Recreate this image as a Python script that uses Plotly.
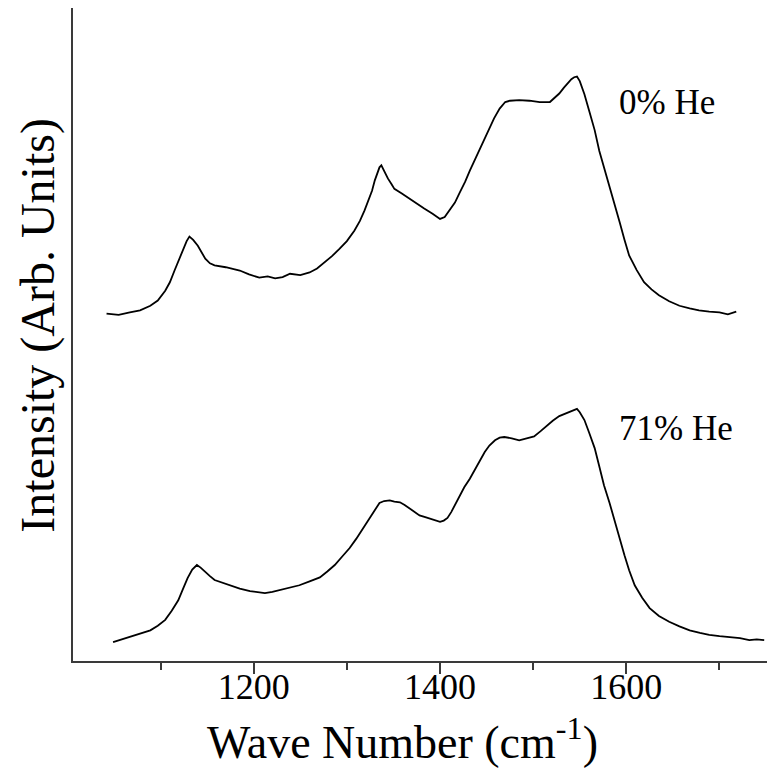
import plotly.graph_objects as go

# Wave numbers (cm^-1) and intensities (arbitrary units)
wn_0 = [1042, 1055, 1067, 1078, 1089, 1097, 1105, 1110, 1115, 1120, 1124, 1128,
        1131, 1135, 1140, 1144, 1148, 1153, 1158, 1170, 1185, 1195, 1206, 1215,
        1223, 1231, 1239, 1250, 1260, 1268, 1276, 1284, 1292, 1300, 1308, 1314,
        1319, 1323, 1327, 1330, 1333, 1335, 1337, 1340, 1344, 1348, 1351, 1359,
        1367, 1375, 1383, 1392, 1400, 1405, 1410, 1416, 1421, 1427, 1432, 1437,
        1442, 1448, 1453, 1458, 1464, 1470, 1475, 1485, 1496, 1507, 1518, 1523,
        1528, 1533, 1537, 1541, 1544, 1547, 1550, 1555, 1560, 1566, 1571, 1577,
        1582, 1588, 1593, 1598, 1603, 1611, 1619, 1627, 1635, 1646, 1657, 1668,
        1678, 1689, 1700, 1709, 1718]
int_0 = [53.2, 53.0, 53.4, 53.7, 54.4, 55.2, 56.7, 58.0, 59.8, 61.5, 63.1, 64.3,
         65.0, 64.5, 63.6, 62.6, 61.6, 60.9, 60.6, 60.3, 59.8, 59.2, 58.7, 58.9,
         58.6, 58.8, 59.3, 59.1, 59.5, 60.1, 61.0, 62.0, 63.1, 64.3, 65.9, 67.4,
         69.0, 70.6, 72.0, 73.6, 74.8, 75.6, 75.9, 75.0, 73.9, 73.0, 72.3, 71.6,
         70.8, 70.0, 69.3, 68.5, 67.7, 68.0, 69.0, 70.2, 71.7, 73.4, 75.1, 76.6,
         78.1, 79.9, 81.5, 83.1, 84.6, 85.6, 85.8, 85.9, 85.8, 85.6, 85.6, 86.2,
         86.9, 87.8, 88.5, 89.1, 89.4, 89.5, 88.8, 86.8, 84.3, 81.3, 78.1, 75.2,
         72.8, 69.9, 67.1, 64.5, 62.1, 59.9, 58.0, 56.9, 56.0, 55.1, 54.4, 54.0,
         53.7, 53.5, 53.4, 53.1, 53.5]

wn_71 = [1049, 1058, 1067, 1078, 1089, 1097, 1105, 1112, 1119, 1124, 1129, 1134,
         1139, 1143, 1148, 1153, 1158, 1166, 1174, 1185, 1196, 1204, 1212, 1220,
         1228, 1238, 1249, 1260, 1271, 1279, 1287, 1295, 1303, 1310, 1316, 1322,
         1327, 1331, 1335, 1340, 1346, 1351, 1357, 1362, 1367, 1372, 1378, 1385,
         1391, 1396, 1400, 1404, 1408, 1412, 1416, 1421, 1426, 1432, 1437, 1443,
         1448, 1453, 1459, 1464, 1469, 1477, 1485, 1493, 1501, 1508, 1515, 1521,
         1528, 1536, 1544, 1547, 1550, 1555, 1560, 1566, 1571, 1576, 1582, 1587,
         1593, 1598, 1603, 1609, 1617, 1625, 1635, 1646, 1657, 1668, 1679, 1689,
         1700, 1711, 1722, 1732, 1740, 1748]
int_71 = [2.9, 3.3, 3.7, 4.2, 4.7, 5.4, 6.3, 7.7, 9.3, 11.0, 12.7, 14.0,
          14.7, 14.3, 13.6, 13.0, 12.4, 12.0, 11.6, 11.1, 10.7, 10.5, 10.4, 10.6,
          10.9, 11.2, 11.6, 12.2, 12.8, 13.7, 14.7, 16.0, 17.3, 18.7, 20.0, 21.2,
          22.3, 23.3, 24.2, 24.5, 24.6, 24.4, 24.3, 23.9, 23.4, 22.8, 22.3, 22.0,
          21.7, 21.5, 21.3, 21.5, 21.9, 22.8, 23.9, 25.2, 26.6, 27.9, 29.2, 30.6,
          32.0, 33.0, 33.8, 34.2, 34.3, 34.1, 33.8, 34.1, 34.4, 35.2, 36.1, 36.8,
          37.5, 38.0, 38.4, 38.6, 38.1, 36.9, 35.0, 32.6, 29.8, 26.9, 24.2, 21.6,
          18.9, 16.2, 13.9, 11.6, 9.7, 8.1, 6.9, 6.0, 5.3, 4.7, 4.3, 4.0,
          3.8, 3.7, 3.5, 3.2, 3.3, 3.2]

series_labels = ["0% He", "71% He"]
major_ticks = [1200, 1400, 1600]
minor_ticks = [1100, 1300, 1500, 1700]

FONT = "Liberation Serif, Times New Roman, Tinos, DejaVu Serif, serif"
AXIS_COLOR = "#3a3a3a"

fig = go.Figure()
fig.add_trace(go.Scatter(x=wn_0, y=int_0, mode="lines", name=series_labels[0],
                         line=dict(color="black", width=1.8)))
fig.add_trace(go.Scatter(x=wn_71, y=int_71, mode="lines", name=series_labels[1],
                         line=dict(color="black", width=1.8)))

fig.update_layout(
    width=779, height=780,
    margin=dict(l=65, r=20, t=0, b=127),
    paper_bgcolor="white", plot_bgcolor="white",
    showlegend=False,
    font=dict(family=FONT, color="black"),
    xaxis=dict(
        range=[1006, 1751], showgrid=False, zeroline=False,
        showline=True, linecolor=AXIS_COLOR, linewidth=2,
        tickmode="array", tickvals=major_ticks,
        ticks="outside", ticklen=11, tickwidth=1.5, tickcolor=AXIS_COLOR,
        ticklabelstandoff=-18,
        tickfont=dict(family=FONT, size=36, color="black"),
        minor=dict(ticks="outside", ticklen=7, tickwidth=1.5, tickcolor=AXIS_COLOR,
                   tickmode="array", tickvals=minor_ticks),
    ),
    yaxis=dict(
        range=[0, 100], showgrid=False, zeroline=False,
        showline=True, linecolor=AXIS_COLOR, linewidth=2,
        showticklabels=False, ticks="",
    ),
    annotations=[
        dict(text="Wave Number (cm<sup>-1</sup>)", xref="paper", yref="paper",
             x=0.4755, y=-0.119, xanchor="center", yanchor="middle",
             showarrow=False, font=dict(family=FONT, size=46, color="black")),
        dict(text="Intensity (Arb. Units)", xref="paper", yref="paper",
             x=-0.05, y=0.514, xanchor="center", yanchor="middle", textangle=-90,
             showarrow=False, font=dict(family=FONT, size=48, color="black")),
        dict(text=series_labels[0], xref="paper", yref="paper",
             x=0.784, y=0.856, xanchor="left", yanchor="middle",
             showarrow=False, font=dict(family=FONT, size=35, color="black")),
        dict(text=series_labels[1], xref="paper", yref="paper",
             x=0.784, y=0.356, xanchor="left", yanchor="middle",
             showarrow=False, font=dict(family=FONT, size=35, color="black")),
    ],
)

fig.write_html("out.html")
